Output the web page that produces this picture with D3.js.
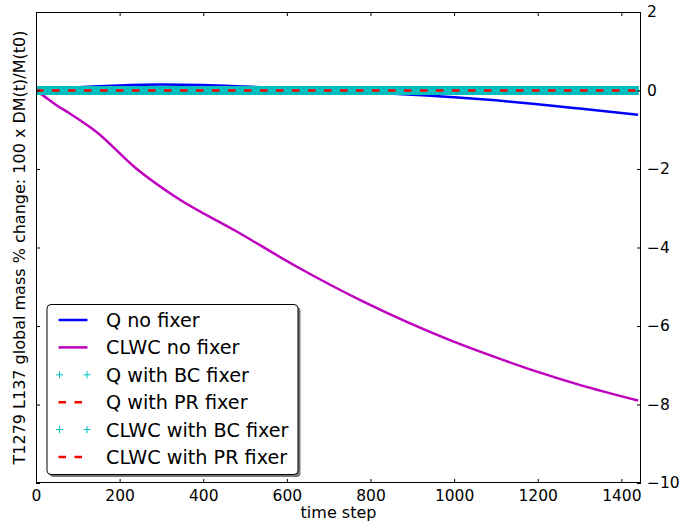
<!DOCTYPE html>
<html>
<head>
<meta charset="utf-8">
<script src="https://cdn.jsdelivr.net/npm/d3@7"></script>
<style>
	body { margin: 0; background: #fff; }
	text { font-family: "DejaVu Sans", sans-serif; fill: #000; }
</style>
</head>
<body>
<svg id="chart" width="679" height="528"></svg>
<script>
// --- data ---
const xTicks = [0, 200, 400, 600, 800, 1000, 1200, 1400];
const yTicks = [2, 0, -2, -4, -6, -8, -10];

const qSteps    = [0, 100, 200, 300, 400, 500, 600, 700, 800, 900, 1000, 1100, 1200, 1300, 1440];
const qNoFixer  = [0, 0.08, 0.13, 0.15, 0.14, 0.1, 0.05, 0, -0.05, -0.11, -0.17, -0.25, -0.35, -0.46, -0.62];

const clwcSteps   = [0, 20, 50, 80, 144, 239, 335, 478, 624, 783, 990, 1100, 1200, 1300, 1440];
const clwcNoFixer = [0, -0.15, -0.38, -0.58, -1.05, -1.98, -2.72, -3.58, -4.49, -5.38, -6.36, -6.8, -7.17, -7.5, -7.9];

// fixed runs stay at zero for every time step
const timeSteps   = d3.range(0, 1441);
const qBCFixer    = timeSteps.map(() => 0);
const qPRFixer    = timeSteps.map(() => 0);
const clwcBCFixer = timeSteps.map(() => 0);
const clwcPRFixer = timeSteps.map(() => 0);

const legendLabels = ["Q no fixer", "CLWC no fixer", "Q with BC fixer", "Q with PR fixer", "CLWC with BC fixer", "CLWC with PR fixer"];

// --- layout ---
const L = 36, R = 641, T = 12, B = 483;
const BLUE = "#0000ff", MAGENTA = "#bf00bf", CYAN = "#00bfbf", RED = "#ff0000";
const DASH = "7.5,8.5";

const svg = d3.select("#chart");
const x = d3.scaleLinear().domain([0, 1447]).range([L, R]);
const y = d3.scaleLinear().domain([-10, 2]).range([B, T]);

const plot = svg.append("g");
plot.append("clipPath").attr("id", "clip")
	.append("rect").attr("x", L).attr("y", T).attr("width", R - L).attr("height", B - T);
const lines = plot.append("g").attr("clip-path", "url(#clip)");

function zip(xs, ys) { return xs.map((t, i) => [t, ys[i]]); }

const curve = d3.line()
	.x(d => x(d[0]))
	.y(d => y(d[1]))
	.curve(d3.curveMonotoneX);

function plusPath(pts, s)
{
	const p = d3.path();
	pts.forEach(function(d){
		const cx = x(d[0]), cy = y(d[1]);
		p.moveTo(cx - s, cy); p.lineTo(cx + s, cy);
		p.moveTo(cx, cy - s); p.lineTo(cx, cy + s);
	});
	return p.toString();
}

lines.append("path").attr("d", curve(zip(qSteps, qNoFixer)))
	.attr("fill", "none").attr("stroke", BLUE).attr("stroke-width", 2.5);
lines.append("path").attr("d", curve(zip(clwcSteps, clwcNoFixer)))
	.attr("fill", "none").attr("stroke", MAGENTA).attr("stroke-width", 2.5);

const flat = d3.line().x(d => x(d[0])).y(d => y(d[1]));
lines.append("path").attr("d", plusPath(zip(timeSteps, qBCFixer), 4.5))
	.attr("fill", "none").attr("stroke", CYAN).attr("stroke-width", 1);
lines.append("path").attr("d", flat(zip(timeSteps, qPRFixer)))
	.attr("fill", "none").attr("stroke", RED).attr("stroke-width", 2.5).attr("stroke-dasharray", DASH);
lines.append("path").attr("d", plusPath(zip(timeSteps, clwcBCFixer), 4.5))
	.attr("fill", "none").attr("stroke", CYAN).attr("stroke-width", 1);
lines.append("path").attr("d", flat(zip(timeSteps, clwcPRFixer)))
	.attr("fill", "none").attr("stroke", RED).attr("stroke-width", 2.5).attr("stroke-dasharray", DASH);

// --- axes, matplotlib style inward ticks ---
function styleAxis(g)
{
	g.select(".domain").remove();
	g.selectAll(".tick line").attr("stroke", "#000");
	g.selectAll(".tick text").style("font-size", "15.5px").attr("fill", "#000");
}

svg.append("g").attr("transform", "translate(0," + B + ")")
	.call(d3.axisBottom(x).tickValues(xTicks).tickSize(-4).tickPadding(7).tickFormat(d3.format("d")))
	.call(styleAxis);
svg.append("g").attr("transform", "translate(0," + T + ")")
	.call(d3.axisTop(x).tickValues(xTicks).tickSize(-4).tickFormat(""))
	.call(styleAxis);
svg.append("g").attr("transform", "translate(" + R + ",0)")
	.call(d3.axisRight(y).tickValues(yTicks).tickSize(-4).tickPadding(6).tickFormat(d3.format("d")))
	.call(styleAxis);
svg.append("g").attr("transform", "translate(" + L + ",0)")
	.call(d3.axisLeft(y).tickValues(yTicks).tickSize(-4).tickFormat(""))
	.call(styleAxis);

svg.append("rect").attr("x", L + 0.5).attr("y", T + 0.5)
	.attr("width", R - L - 1).attr("height", B - T - 1)
	.attr("fill", "none").attr("stroke", "#000").attr("stroke-width", 1);

svg.append("text").attr("x", (L + R) / 2).attr("y", 518)
	.attr("text-anchor", "middle").style("font-size", "16px").text("time step");
svg.append("text")
	.attr("transform", "translate(25," + ((T + B) / 2) + ") rotate(-90)")
	.attr("text-anchor", "middle").style("font-size", "16px")
	.text("T1279 L137 global mass % change: 100 x DM(t)/M(t0)");

// --- legend ---
const legendStyles = [
	{ kind: "line", color: BLUE },
	{ kind: "line", color: MAGENTA },
	{ kind: "plus", color: CYAN },
	{ kind: "dash", color: RED },
	{ kind: "plus", color: CYAN },
	{ kind: "dash", color: RED }
];
const lx = 47, ly = 304.5, lw = 251, lh = 170;
const legend = svg.append("g");
legend.append("rect").attr("x", lx + 2.5).attr("y", ly + 2.5).attr("width", lw).attr("height", lh)
	.attr("rx", 4).attr("fill", "#777");
legend.append("rect").attr("x", lx).attr("y", ly).attr("width", lw).attr("height", lh)
	.attr("rx", 4).attr("fill", "#fff").attr("stroke", "#000").attr("stroke-width", 1);

legendLabels.forEach(function(label, i){
	const cy = 320 + i * 27.4, st = legendStyles[i];
	const row = legend.append("g");
	if( st.kind === "plus" )
	{
		[59.5, 87].forEach(function(px){
			row.append("path").attr("d", "M" + (px - 3.5) + "," + cy + "h7M" + px + "," + (cy - 3.5) + "v7")
				.attr("stroke", st.color).attr("stroke-width", 1);
		});
	}
	else
	{
		row.append("line").attr("x1", 58.5).attr("x2", 87.5).attr("y1", cy).attr("y2", cy)
			.attr("stroke", st.color).attr("stroke-width", 2.5)
			.attr("stroke-dasharray", st.kind === "dash" ? DASH : null);
	}
	row.append("text").attr("x", 106).attr("y", cy).attr("dy", "0.36em")
		.style("font-size", "19.2px").text(label);
});
</script>
</body>
</html>
